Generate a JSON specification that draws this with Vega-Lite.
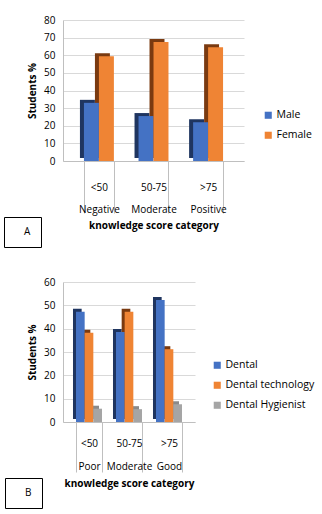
{
  "$schema": "https://vega.github.io/schema/vega-lite/v6.json",
  "padding": {"left": 3, "top": 15, "right": 0, "bottom": 0},
  "background": "white",
  "spacing": 29,
  "config": {
    "font": "Open Sans",
    "view": {"stroke": null},
    "axis": {
      "labelFont": "Open Sans", "labelFontSize": 10, "labelColor": "#000000",
      "titleFont": "Open Sans", "titleFontSize": 10, "titleFontWeight": "bold", "titleColor": "#000000",
      "domainColor": "#bfbfbf", "gridColor": "#d9d9d9", "tickColor": "#bfbfbf", "labelOverlap": false
    },
    "legend": {"labelFont": "Open Sans", "labelFontSize": 10.5, "labelColor": "#000000"}
  },
  "resolve": {"scale": {"color": "independent", "shape": "independent", "x": "independent", "y": "independent"}, "legend": {"color": "independent", "shape": "independent"}},
  "vconcat": [
    {
      "width": 181,
      "height": 141,
      "data": {"values": [
        {"cat": "<50|Negative", "gender": "Male", "value": 33},
        {"cat": "<50|Negative", "gender": "Female", "value": 59.5},
        {"cat": "50-75|Moderate", "gender": "Male", "value": 25.5},
        {"cat": "50-75|Moderate", "gender": "Female", "value": 67.5},
        {"cat": ">75|Positive", "gender": "Male", "value": 22},
        {"cat": ">75|Positive", "gender": "Female", "value": 64.5}
      ]},
      "encoding": {
        "x": {"field": "cat", "type": "nominal", "sort": null, "scale": {"paddingInner": 0.452, "paddingOuter": 0.384},
          "axis": {"title": "knowledge score category", "labelExpr": "split(datum.label, '|')", "labelAngle": 0, "tickBand": "extent", "tickSize": 52, "labelPadding": -31, "labelLineHeight": 22, "titlePadding": 6, "labelBaseline": "top"}},
        "y": {"field": "value", "type": "quantitative", "scale": {"domain": [0, 80]},
          "axis": {"title": "Students %", "tickCount": 8, "ticks": false, "labelPadding": 8, "titlePadding": 6, "labelOverlap": false}}
      },
      "layer": [
        {
          "transform": [{"filter": "datum.gender == 'Male'"}],
          "mark": {"type": "bar", "xOffset": -11.5, "yOffset": -3, "width": {"band": 0.5}, "color": "#1f3560"}
        },
        {
          "transform": [{"filter": "datum.gender == 'Female'"}],
          "mark": {"type": "bar", "xOffset": 3.5, "yOffset": -3, "width": {"band": 0.5}, "color": "#7a3a10"}
        },
        {
          "transform": [{"filter": "datum.gender == 'Male'"}],
          "mark": {"type": "bar", "xOffset": -7.5, "width": {"band": 0.5}},
          "encoding": {
            "color": {"field": "gender", "type": "nominal", "scale": {"domain": ["Male", "Female"], "range": ["#4472c4", "#ef8434"]},
              "legend": {"title": null, "orient": "none", "legendX": 200, "legendY": 90, "symbolType": "square", "symbolSize": 50, "rowPadding": 9, "labelOffset": 3}}
          }
        },
        {
          "transform": [{"filter": "datum.gender == 'Female'"}],
          "mark": {"type": "bar", "xOffset": 7.5, "width": {"band": 0.5}},
          "encoding": {
            "color": {"field": "gender", "type": "nominal"}
          }
        },
        {
          "data": {"values": [{"panel": "A"}]},
          "mark": {"type": "point", "opacity": 0},
          "encoding": {
            "x": null, "y": null,
            "shape": {"field": "panel", "type": "nominal",
              "legend": {"title": null, "orient": "none", "legendX": -59, "legendY": 197, "strokeColor": "#000000", "padding": 10, "symbolSize": 0, "symbolOpacity": 0, "labelOffset": 0, "labelFontSize": 10, "symbolStrokeWidth": 0}}
          }
        }
      ]
    },
    {
      "width": 132,
      "height": 140,
      "data": {"values": [
        {"cat": "<50|Poor", "group": "Dental", "value": 47.3},
        {"cat": "<50|Poor", "group": "Dental technology", "value": 38.3},
        {"cat": "<50|Poor", "group": "Dental Hygienist", "value": 5.7},
        {"cat": "50-75|Moderate", "group": "Dental", "value": 38.6},
        {"cat": "50-75|Moderate", "group": "Dental technology", "value": 47.3},
        {"cat": "50-75|Moderate", "group": "Dental Hygienist", "value": 5.5},
        {"cat": ">75|Good", "group": "Dental", "value": 52.3},
        {"cat": ">75|Good", "group": "Dental technology", "value": 31.2},
        {"cat": ">75|Good", "group": "Dental Hygienist", "value": 7.6}
      ]},
      "encoding": {
        "x": {"field": "cat", "type": "nominal", "sort": null, "scale": {"paddingInner": 0.35, "paddingOuter": 0.325},
          "axis": {"title": "knowledge score category", "labelExpr": "split(datum.label, '|')", "labelAngle": 0, "tickBand": "extent", "tickSize": 50, "labelPadding": -34, "labelLineHeight": 23, "titlePadding": 6, "labelBaseline": "top"}},
        "y": {"field": "value", "type": "quantitative", "scale": {"domain": [0, 60]},
          "axis": {"title": "Students %", "tickCount": 6, "ticks": false, "labelPadding": 8, "titlePadding": 6, "labelOverlap": false}}
      },
      "layer": [
        {
          "transform": [{"filter": "datum.group == 'Dental'"}],
          "mark": {"type": "bar", "xOffset": -11.67, "yOffset": -3, "width": {"band": 0.3333}, "color": "#1f3560"}
        },
        {
          "transform": [{"filter": "datum.group == 'Dental technology'"}],
          "mark": {"type": "bar", "xOffset": -3, "yOffset": -3, "width": {"band": 0.3333}, "color": "#7a3a10"}
        },
        {
          "transform": [{"filter": "datum.group == 'Dental Hygienist'"}],
          "mark": {"type": "bar", "xOffset": 5.67, "yOffset": -3, "width": {"band": 0.3333}, "color": "#8a8a8a"}
        },
        {
          "transform": [{"filter": "datum.group == 'Dental'"}],
          "mark": {"type": "bar", "xOffset": -8.67, "width": {"band": 0.3333}},
          "encoding": {
            "color": {"field": "group", "type": "nominal", "scale": {"domain": ["Dental", "Dental technology", "Dental Hygienist"], "range": ["#4472c4", "#ef8434", "#a5a5a5"]},
              "legend": {"title": null, "orient": "none", "legendX": 149, "legendY": 78, "symbolType": "square", "symbolSize": 50, "rowPadding": 9, "labelOffset": 3}}
          }
        },
        {
          "transform": [{"filter": "datum.group == 'Dental technology'"}],
          "mark": {"type": "bar", "width": {"band": 0.3333}},
          "encoding": {
            "color": {"field": "group", "type": "nominal"}
          }
        },
        {
          "transform": [{"filter": "datum.group == 'Dental Hygienist'"}],
          "mark": {"type": "bar", "xOffset": 8.67, "width": {"band": 0.3333}},
          "encoding": {
            "color": {"field": "group", "type": "nominal"}
          }
        },
        {
          "data": {"values": [{"panel": "B"}]},
          "mark": {"type": "point", "opacity": 0},
          "encoding": {
            "x": null, "y": null,
            "shape": {"field": "panel", "type": "nominal",
              "legend": {"title": null, "orient": "none", "legendX": -58, "legendY": 196, "strokeColor": "#000000", "padding": 10, "symbolSize": 0, "symbolOpacity": 0, "labelOffset": 0, "labelFontSize": 10, "symbolStrokeWidth": 0}}
          }
        }
      ]
    }
  ]
}
